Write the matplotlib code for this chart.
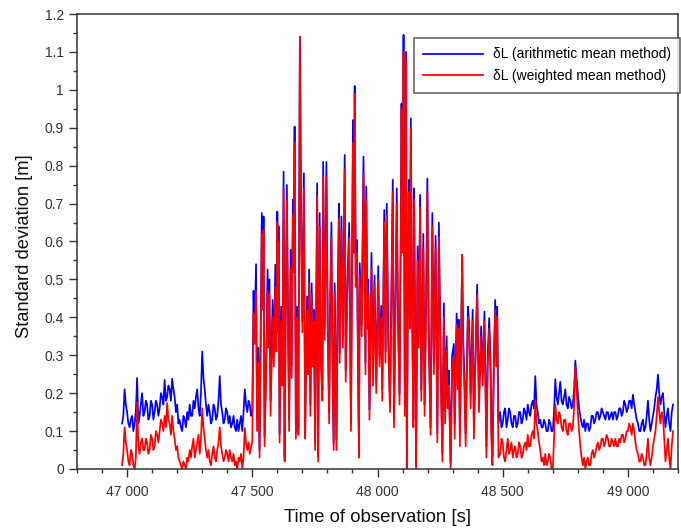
import numpy as np
import matplotlib
matplotlib.use("Agg")
import matplotlib.pyplot as plt
from matplotlib.ticker import MultipleLocator, FuncFormatter

plt.rcParams['font.family'] = ['Liberation Sans', 'DejaVu Sans']

# ---------------- data ----------------
# quiet segment before the active period (5 s sampling)
left_t0, left_step = 46980, 5
blue_left = [0.12, 0.14, 0.21, 0.17, 0.15, 0.12, 0.11, 0.13, 0.14, 0.10,
             0.12, 0.15, 0.24, 0.12, 0.14, 0.17, 0.20, 0.14, 0.15, 0.18,
             0.17, 0.13, 0.14, 0.18, 0.17, 0.13, 0.15, 0.18, 0.17, 0.14,
             0.16, 0.20, 0.19, 0.17, 0.235, 0.18, 0.19, 0.22, 0.21, 0.18,
             0.238, 0.21, 0.19, 0.15, 0.17, 0.12, 0.13, 0.11, 0.10, 0.14,
             0.13, 0.11, 0.15, 0.13, 0.17, 0.14, 0.14, 0.18, 0.16, 0.19,
             0.21, 0.16, 0.14, 0.20, 0.31, 0.24, 0.21, 0.17, 0.14, 0.17,
             0.15, 0.12, 0.13, 0.17, 0.16, 0.13, 0.14, 0.18, 0.245, 0.17,
             0.15, 0.12, 0.13, 0.16, 0.15, 0.12, 0.14, 0.11, 0.12, 0.14,
             0.11, 0.10, 0.13, 0.10, 0.12, 0.14, 0.10, 0.15, 0.21, 0.17,
             0.15, 0.18, 0.17, 0.14, 0.15]
red_left = [0.01, 0.04, 0.11, 0.07, 0.05, 0.02, 0.01, 0.05, 0.04, 0.01,
            0.00, 0.03, 0.175, 0.06, 0.04, 0.07, 0.08, 0.05, 0.05, 0.08,
            0.07, 0.04, 0.05, 0.09, 0.08, 0.05, 0.06, 0.10, 0.09, 0.07,
            0.10, 0.13, 0.12, 0.10, 0.14, 0.11, 0.174, 0.13, 0.12, 0.09,
            0.14, 0.10, 0.08, 0.05, 0.06, 0.03, 0.02, 0.01, 0.00, 0.02,
            0.01, 0.00, 0.03, 0.02, 0.05, 0.03, 0.06, 0.08, 0.03, 0.05,
            0.07, 0.09, 0.04, 0.08, 0.16, 0.11, 0.08, 0.05, 0.03, 0.05,
            0.02, 0.01, 0.04, 0.06, 0.03, 0.02, 0.05, 0.07, 0.11, 0.06,
            0.04, 0.02, 0.03, 0.05, 0.04, 0.02, 0.05, 0.03, 0.02, 0.04,
            0.01, 0.02, 0.00, 0.03, 0.02, 0.04, 0.00, 0.03, 0.108, 0.07,
            0.05, 0.07, 0.04, 0.06, 0.07]

# active period (irregular extrema)
active_t = [47505, 47509, 47515, 47519, 47524, 47529, 47538, 47542, 47545, 47549,
            47556, 47561, 47565, 47568, 47573, 47581, 47586, 47592, 47596, 47600,
            47603, 47605, 47609, 47615, 47620, 47625, 47629, 47633, 47638, 47642,
            47647, 47653, 47657, 47662, 47665, 47669, 47674, 47679, 47684, 47690,
            47695, 47700, 47706, 47711, 47715, 47719, 47723, 47727, 47732, 47737,
            47742, 47746, 47751, 47755, 47759, 47763, 47769, 47774, 47780, 47783,
            47789, 47796, 47801, 47807, 47811, 47816, 47820, 47825, 47829, 47836,
            47841, 47846, 47849, 47856, 47862, 47869, 47873, 47880, 47887, 47894,
            47902, 47906, 47909, 47913, 47918, 47922, 47926, 47929, 47937, 47944,
            47952, 47955, 47960, 47963, 47968, 47976, 47982, 47988, 47995, 48003,
            48008, 48015, 48019, 48027, 48032, 48037, 48043, 48050, 48061, 48066,
            48072, 48077, 48082, 48088, 48093, 48096, 48100, 48104, 48109, 48114,
            48117, 48121, 48125, 48129, 48133, 48138, 48143, 48146, 48150, 48154,
            48160, 48165, 48170, 48175, 48183, 48188, 48194, 48199, 48205, 48212,
            48219, 48225, 48232, 48239, 48245, 48252, 48259, 48265, 48270, 48276,
            48280, 48285, 48292, 48298, 48305, 48308, 48316, 48320, 48324, 48329,
            48333, 48338, 48342, 48347, 48352, 48361, 48366, 48372, 48380, 48385,
            48391, 48398, 48405, 48414, 48420, 48427, 48435, 48440, 48446, 48451,
            48455, 48459, 48465, 48470, 48474, 48478, 48483]
blue_active = [0.47, 0.36, 0.54, 0.13, 0.32, 0.05, 0.675, 0.45, 0.666, 0.085,
               0.30, 0.526, 0.35, 0.50, 0.18, 0.446, 0.30, 0.539, 0.35, 0.679,
               0.40, 0.64, 0.094, 0.428, 0.25, 0.784, 0.033, 0.40, 0.749, 0.45,
               0.13, 0.578, 0.27, 0.71, 0.55, 0.903, 0.10, 0.428, 0.107, 1.14,
               0.657, 0.39, 0.78, 0.10, 0.30, 0.455, 0.28, 0.526, 0.17, 0.49,
               0.30, 0.42, 0.068, 0.40, 0.753, 0.033, 0.675, 0.30, 0.208, 0.81,
               0.37, 0.81, 0.40, 0.148, 0.45, 0.65, 0.30, 0.068, 0.49, 0.077,
               0.45, 0.70, 0.306, 0.666, 0.35, 0.828, 0.26, 0.50, 0.649, 0.12,
               0.92, 0.60, 1.01, 0.51, 0.604, 0.30, 0.05, 0.543, 0.38, 0.824,
               0.28, 0.745, 0.40, 0.50, 0.157, 0.57, 0.25, 0.51, 0.227, 0.535,
               0.30, 0.43, 0.21, 0.683, 0.31, 0.70, 0.35, 0.173, 0.763, 0.13,
               0.45, 0.74, 0.40, 0.20, 0.64, 0.964, 0.60, 1.145, 0.164, 1.10,
               0.007, 0.45, 0.763, 0.40, 0.925, 0.45, 0.13, 0.74, 0.40, 0.007,
               0.587, 0.35, 0.723, 0.208, 0.62, 0.17, 0.45, 0.766, 0.35, 0.11,
               0.675, 0.28, 0.615, 0.094, 0.65, 0.30, 0.042, 0.437, 0.157, 0.35,
               0.20, 0.26, 0.016, 0.30, 0.33, 0.12, 0.41, 0.25, 0.394, 0.094,
               0.30, 0.565, 0.35, 0.25, 0.094, 0.428, 0.384, 0.20, 0.42, 0.11,
               0.30, 0.486, 0.19, 0.376, 0.25, 0.415, 0.06, 0.30, 0.398, 0.297,
               0.10, 0.033, 0.30, 0.446, 0.30, 0.428, 0.12]
red_active = [0.41, 0.33, 0.47, 0.10, 0.28, 0.03, 0.62, 0.42, 0.63, 0.06,
              0.27, 0.47, 0.32, 0.46, 0.14, 0.40, 0.27, 0.48, 0.31, 0.65,
              0.36, 0.60, 0.07, 0.39, 0.22, 0.74, 0.02, 0.37, 0.71, 0.41,
              0.10, 0.53, 0.24, 0.67, 0.52, 0.86, 0.08, 0.40, 0.09, 1.14,
              0.63, 0.36, 0.74, 0.08, 0.28, 0.42, 0.25, 0.49, 0.14, 0.46,
              0.27, 0.39, 0.05, 0.37, 0.72, 0.02, 0.64, 0.27, 0.18, 0.77,
              0.34, 0.77, 0.37, 0.12, 0.42, 0.61, 0.27, 0.05, 0.46, 0.05,
              0.41, 0.66, 0.28, 0.63, 0.32, 0.79, 0.23, 0.47, 0.61, 0.10,
              0.86, 0.57, 0.99, 0.48, 0.57, 0.27, 0.03, 0.51, 0.35, 0.78,
              0.25, 0.71, 0.37, 0.46, 0.13, 0.53, 0.22, 0.48, 0.20, 0.50,
              0.27, 0.40, 0.18, 0.65, 0.28, 0.67, 0.32, 0.15, 0.73, 0.11,
              0.42, 0.70, 0.37, 0.17, 0.61, 0.95, 0.57, 1.10, 0.14, 1.08,
              0.00, 0.42, 0.73, 0.37, 0.90, 0.42, 0.11, 0.71, 0.37, 0.00,
              0.55, 0.32, 0.69, 0.18, 0.58, 0.14, 0.42, 0.73, 0.32, 0.09,
              0.64, 0.25, 0.58, 0.07, 0.61, 0.26, 0.02, 0.40, 0.12, 0.31,
              0.16, 0.22, 0.00, 0.26, 0.30, 0.08, 0.38, 0.21, 0.37, 0.06,
              0.27, 0.565, 0.32, 0.21, 0.06, 0.40, 0.35, 0.16, 0.39, 0.08,
              0.27, 0.46, 0.15, 0.35, 0.22, 0.39, 0.03, 0.27, 0.37, 0.26,
              0.07, 0.01, 0.27, 0.42, 0.27, 0.40, 0.03]

# quiet segment after the active period (5 s sampling)
right_t0, right_step = 48490, 5
blue_right = [0.15, 0.11, 0.12, 0.15, 0.16, 0.11, 0.13, 0.16, 0.15, 0.12,
              0.11, 0.14, 0.14, 0.11, 0.12, 0.15, 0.15, 0.12, 0.13, 0.16,
              0.15, 0.13, 0.17, 0.15, 0.14, 0.17, 0.18, 0.16, 0.245, 0.17,
              0.15, 0.12, 0.13, 0.11, 0.11, 0.13, 0.12, 0.10, 0.10, 0.13,
              0.12, 0.10, 0.10, 0.15, 0.237, 0.19, 0.17, 0.20, 0.23, 0.18,
              0.17, 0.19, 0.21, 0.17, 0.16, 0.19, 0.18, 0.16, 0.17, 0.21,
              0.286, 0.24, 0.20, 0.16, 0.14, 0.12, 0.11, 0.13, 0.10, 0.12,
              0.12, 0.10, 0.11, 0.14, 0.14, 0.12, 0.13, 0.15, 0.15, 0.13,
              0.14, 0.16, 0.15, 0.14, 0.13, 0.15, 0.15, 0.13, 0.14, 0.15,
              0.13, 0.15, 0.15, 0.13, 0.14, 0.16, 0.16, 0.14, 0.15, 0.18,
              0.17, 0.15, 0.16, 0.18, 0.18, 0.16, 0.196, 0.17, 0.15, 0.13,
              0.12, 0.10, 0.10, 0.12, 0.13, 0.10, 0.11, 0.14, 0.18, 0.13,
              0.10, 0.12, 0.14, 0.16, 0.19, 0.21, 0.249, 0.20, 0.17, 0.19,
              0.20, 0.15, 0.11, 0.14, 0.16, 0.12, 0.10, 0.15, 0.17]
red_right = [0.04, 0.08, 0.07, 0.03, 0.02, 0.05, 0.08, 0.04, 0.05, 0.07,
             0.03, 0.05, 0.06, 0.03, 0.04, 0.07, 0.06, 0.03, 0.04, 0.06,
             0.07, 0.05, 0.09, 0.06, 0.06, 0.09, 0.10, 0.08, 0.18, 0.12,
             0.10, 0.07, 0.05, 0.02, 0.03, 0.01, 0.04, 0.01, 0.02, 0.04,
             0.03, 0.00, 0.00, 0.08, 0.17, 0.13, 0.12, 0.15, 0.14, 0.11,
             0.10, 0.13, 0.13, 0.10, 0.09, 0.12, 0.12, 0.10, 0.11, 0.16,
             0.27, 0.21, 0.15, 0.10, 0.06, 0.03, 0.01, 0.03, 0.00, 0.02,
             0.03, 0.01, 0.01, 0.04, 0.05, 0.03, 0.04, 0.06, 0.07, 0.05,
             0.06, 0.08, 0.08, 0.06, 0.07, 0.09, 0.08, 0.06, 0.06, 0.08,
             0.07, 0.06, 0.08, 0.06, 0.06, 0.08, 0.07, 0.09, 0.09, 0.07,
             0.08, 0.10, 0.10, 0.12, 0.11, 0.09, 0.12, 0.10, 0.07, 0.05,
             0.04, 0.02, 0.02, 0.04, 0.03, 0.01, 0.01, 0.04, 0.08, 0.03,
             0.01, 0.03, 0.06, 0.08, 0.10, 0.14, 0.19, 0.15, 0.12, 0.15,
             0.14, 0.08, 0.02, 0.05, 0.08, 0.03, 0.00, 0.06, 0.10]

series_labels = ["\u03b4L (arithmetic mean method)", "\u03b4L (weighted mean method)"]
x_label = "Time of observation [s]"
y_label = "Standard deviation [m]"

assert len(active_t) == len(blue_active) == len(red_active), (len(active_t), len(blue_active), len(red_active))
assert len(blue_left) == len(red_left), (len(blue_left), len(red_left))
assert len(blue_right) == len(red_right), (len(blue_right), len(red_right))

t_left = left_t0 + left_step * np.arange(len(blue_left))
t_right = right_t0 + right_step * np.arange(len(blue_right))
t_all = np.concatenate([t_left, np.array(active_t), t_right])
blue_all = np.concatenate([blue_left, blue_active, blue_right])
red_all = np.concatenate([red_left, red_active, red_right])

# ---------------- plot ----------------
fig = plt.figure(figsize=(6.81, 5.31), dpi=100)
ax = fig.add_axes([77/681, 1 - 469/531, 601/681, 455/531])

ax.plot(t_all, blue_all, color='#0000ff', lw=1.25, label=series_labels[0])
ax.plot(t_all, red_all, color='#ff0000', lw=1.25, label=series_labels[1])

ax.set_xlim(46800, 49200)
ax.set_ylim(0, 1.2)
ax.xaxis.set_major_locator(MultipleLocator(500))
ax.xaxis.set_minor_locator(MultipleLocator(100))
ax.yaxis.set_major_locator(MultipleLocator(0.1))
ax.yaxis.set_minor_locator(MultipleLocator(0.05))
ax.xaxis.set_major_formatter(FuncFormatter(lambda v, p: f"{int(round(v)):,}".replace(",", " ")))
ax.yaxis.set_major_formatter(FuncFormatter(lambda v, p: f"{v:.10g}" if abs(v) > 1e-9 else "0"))

for s in ax.spines.values():
    s.set_color('#333333')
    s.set_linewidth(1.1)

ax.tick_params(axis='both', which='major', direction='out', length=5.5, width=1.0,
               color='#333333', labelsize=10, labelcolor='#333333')
ax.tick_params(axis='both', which='minor', direction='out', length=3.2, width=1.0,
               color='#333333')
ax.tick_params(axis='x', which='major', pad=6)
ax.tick_params(axis='y', which='major', pad=4)

ax.set_xlabel(x_label, fontsize=13.4, color='#111111')
ax.set_ylabel(y_label, fontsize=13.2, color='#111111')
ax.xaxis.set_label_coords(0.5, -0.088)
ax.yaxis.set_label_coords(-0.073, 0.49)

leg = ax.legend(loc='upper right', bbox_to_anchor=(1.004, 0.948), fontsize=10,
                frameon=True, fancybox=False, handlelength=4.3, borderpad=0.7,
                labelspacing=0.55, handletextpad=0.7, borderaxespad=0)
leg.get_frame().set_edgecolor('#333333')
leg.get_frame().set_linewidth(1.1)

fig.savefig('out.png', dpi=100)
